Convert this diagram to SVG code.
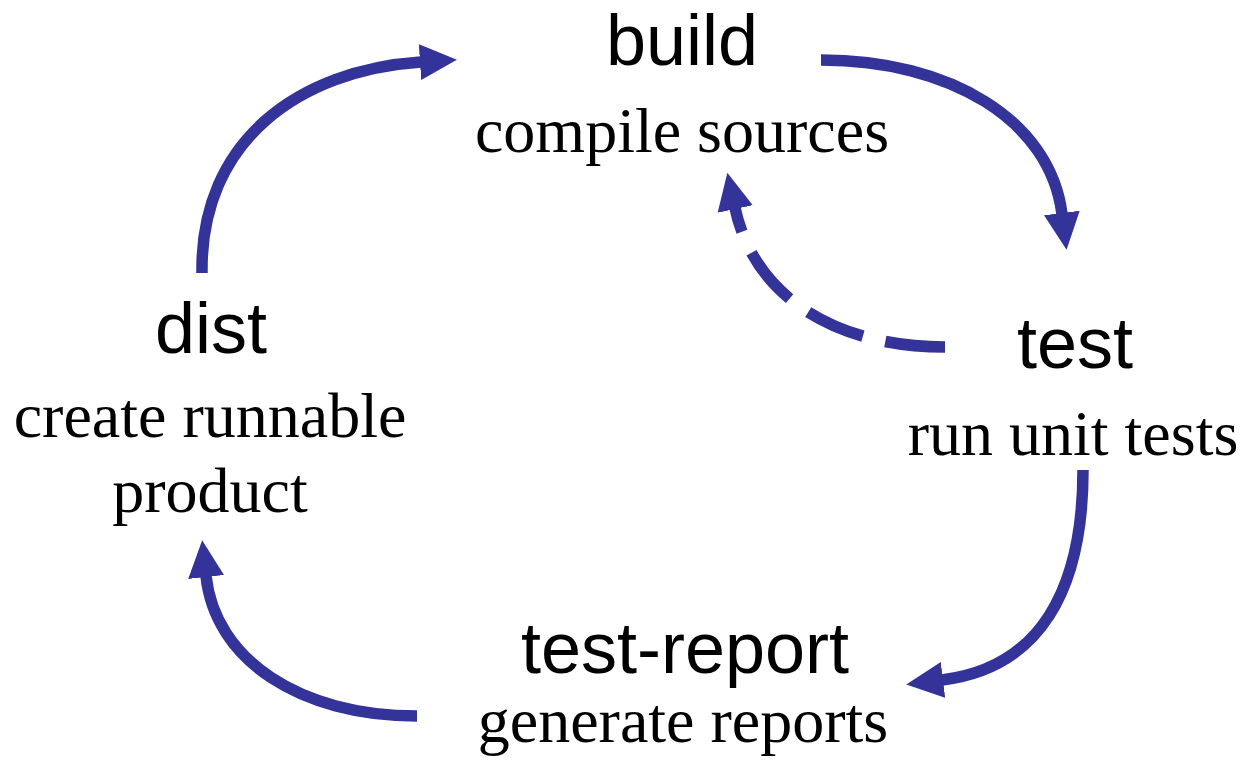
<svg xmlns="http://www.w3.org/2000/svg" width="1245" height="770" viewBox="0 0 1245 770">
  <style>
    .title { font-family: "Liberation Sans", Arial, sans-serif; font-size: 72px; fill: #000; text-anchor: middle; }
    .desc { font-family: "Liberation Serif", "Times New Roman", serif; font-size: 64px; fill: #000; text-anchor: middle; }
    .flow { fill: none; stroke: #333399; stroke-width: 11.5; marker-end: url(#head); }
    .dashed { stroke-dasharray: 60 23; }
  </style>
  <defs>
    <marker id="head" markerUnits="userSpaceOnUse" viewBox="0 0 37 36" markerWidth="37" markerHeight="36" refX="1" refY="18" orient="auto">
      <path d="M0 0 L37 18 L0 36 Z" fill="#333399"/>
    </marker>
  </defs>
  <rect width="1245" height="770" fill="#ffffff"/>

  <g id="connectors">
    <path class="flow" d="M 202 273 C 200 140, 300 70, 421 62"/>
    <path class="flow" d="M 821 60 C 950 60, 1050 120, 1062 214"/>
    <path class="flow dashed" d="M 945 347 C 840 347, 755 300, 735 208"/>
    <path class="flow" d="M 1083 470 C 1083 590, 1040 668, 942 680"/>
    <path class="flow" d="M 417 716 C 300 716, 215 660, 206 576"/>
  </g>

  <g id="build">
    <text class="title" x="682" y="65">build</text>
    <text class="desc" x="682" y="152">compile sources</text>
  </g>
  <g id="test">
    <text class="title" x="1075" y="368">test</text>
    <text class="desc" x="1073" y="455">run unit tests</text>
  </g>
  <g id="test-report">
    <text class="title" x="685" y="673">test-report</text>
    <text class="desc" x="683" y="742">generate reports</text>
  </g>
  <g id="dist">
    <text class="title" x="211" y="353">dist</text>
    <text class="desc" x="210" y="437">create runnable</text>
    <text class="desc" x="210" y="512">product</text>
  </g>
</svg>
